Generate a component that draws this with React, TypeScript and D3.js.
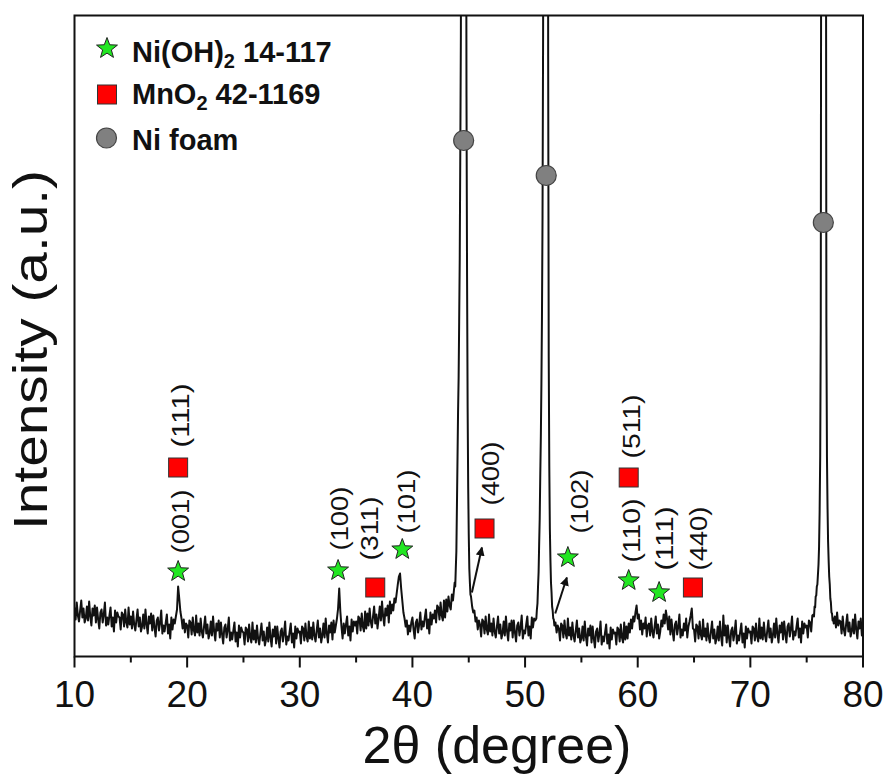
import React from 'react';
import * as d3 from 'd3';

// XRD scan, 2θ from 10° to 80° at 0.1° steps (intensity in a.u.)
const scanStart = 10;
const scanStep = 0.1;
const scanCounts: number[] = [
  49, 37, 54, 41, 35, 46, 56, 39, 48, 34,
  38, 50, 36, 55, 40, 31, 48, 41, 51, 34,
  49, 37, 28, 44, 47, 34, 42, 54, 31, 39,
  32, 41, 49, 30, 39, 25, 46, 34, 44, 40,
  39, 27, 44, 42, 30, 47, 34, 29, 49, 32,
  40, 28, 45, 32, 26, 37, 47, 30, 39, 25,
  30, 42, 28, 47, 32, 23, 40, 33, 43, 26,
  41, 29, 20, 36, 39, 26, 34, 46, 23, 31,
  25, 34, 42, 23, 32, 18, 39, 27, 37, 33,
  40, 47, 70, 58, 45, 38, 28, 37, 24, 33,
  31, 19, 36, 34, 22, 39, 26, 21, 41, 24,
  33, 21, 38, 25, 19, 30, 40, 23, 32, 18,
  23, 35, 21, 40, 25, 16, 33, 26, 36, 19,
  34, 22, 13, 29, 32, 19, 27, 39, 16, 24,
  17, 26, 34, 15, 24, 10, 31, 19, 29, 25,
  24, 12, 29, 27, 15, 32, 19, 14, 34, 17,
  26, 14, 31, 18, 12, 23, 33, 16, 25, 11,
  17, 29, 15, 34, 19, 10, 27, 20, 30, 13,
  30, 18, 9, 25, 28, 15, 23, 35, 12, 20,
  16, 25, 33, 14, 23, 9, 30, 18, 28, 24,
  25, 13, 30, 28, 16, 33, 20, 15, 35, 18,
  29, 17, 34, 21, 15, 26, 36, 19, 28, 14,
  21, 33, 19, 38, 23, 14, 31, 24, 34, 17,
  36, 24, 31, 38, 48, 68, 45, 30, 18, 33,
  23, 32, 40, 21, 30, 16, 37, 25, 35, 31,
  35, 23, 40, 38, 26, 43, 30, 25, 45, 28,
  43, 31, 48, 35, 29, 40, 50, 33, 42, 28,
  38, 50, 36, 55, 40, 31, 48, 41, 51, 34,
  55, 43, 52, 46, 58, 54, 63, 72, 80, 83,
  68, 56, 44, 38, 30, 36, 22, 31, 25, 34,
  39, 27, 18, 34, 37, 24, 32, 44, 27, 35,
  30, 39, 47, 28, 37, 23, 44, 32, 42, 38,
  46, 34, 51, 49, 37, 54, 41, 36, 56, 39,
  57, 45, 60, 51, 47, 62, 56, 68, 78, 110,
  200, 280, 400, 620, 1800, 5000, 1800, 560, 250, 120,
  120, 72, 58, 50, 44, 46, 35, 39, 27, 36,
  32, 20, 37, 35, 23, 40, 27, 22, 42, 25,
  33, 21, 38, 25, 19, 30, 40, 23, 32, 18,
  23, 35, 21, 40, 25, 16, 33, 26, 36, 19,
  36, 24, 15, 31, 34, 21, 29, 41, 18, 26,
  23, 32, 40, 21, 30, 18, 39, 29, 38, 36,
  40, 55, 85, 140, 220, 340, 620, 2000, 4500, 4500,
  1500, 300, 130, 75, 52, 40, 33, 34, 24, 31,
  28, 16, 33, 31, 19, 36, 23, 18, 38, 21,
  29, 17, 34, 21, 15, 26, 36, 19, 28, 14,
  18, 30, 16, 35, 20, 11, 28, 21, 31, 14,
  30, 18, 9, 25, 28, 15, 23, 35, 12, 20,
  15, 24, 32, 13, 22, 8, 29, 17, 27, 23,
  24, 12, 29, 27, 15, 32, 19, 14, 34, 17,
  30, 18, 33, 24, 37, 28, 40, 35, 44, 51,
  38, 42, 27, 36, 22, 33, 28, 39, 20, 31,
  33, 21, 38, 25, 19, 30, 40, 23, 32, 18,
  25, 36, 30, 42, 33, 46, 38, 27, 40, 22,
  37, 25, 16, 32, 35, 22, 30, 42, 19, 27,
  21, 33, 26, 38, 19, 30, 35, 41, 48, 28,
  27, 15, 32, 30, 18, 35, 22, 17, 37, 20,
  28, 16, 33, 20, 14, 25, 35, 18, 27, 13,
  18, 30, 16, 35, 20, 11, 41, 21, 31, 14,
  31, 19, 10, 26, 29, 16, 24, 36, 13, 21,
  16, 25, 33, 14, 23, 9, 30, 18, 28, 24,
  25, 13, 30, 28, 16, 33, 20, 15, 38, 18,
  29, 17, 34, 21, 15, 26, 36, 19, 28, 14,
  21, 33, 19, 38, 23, 14, 31, 24, 34, 17,
  35, 23, 14, 30, 33, 20, 28, 40, 17, 25,
  21, 30, 38, 19, 28, 14, 35, 23, 33, 29,
  31, 19, 36, 34, 25, 41, 43, 52, 63, 80,
  80, 110, 200, 2000, 4500, 4500, 2000, 330, 150, 95,
  80, 60, 46, 38, 34, 40, 29, 44, 31, 36,
  35, 23, 40, 27, 21, 32, 42, 25, 34, 20,
  25, 37, 23, 42, 27, 18, 35, 28, 38, 21,
  30,
];

// finer readings around the three Ni foam reflections (2θ, intensity)
const peakNi111: [number, number][] = [
  [43.7, 68], [43.75, 74], [43.8, 70], [43.85, 88], [43.9, 105], [43.95, 150], [44.0, 196],
  [44.05, 244], [44.1, 278], [44.15, 335], [44.2, 398], [44.25, 505], [44.3, 620], [44.35, 900],
  [44.4, 1800], [44.45, 3000], [44.5, 4500], [44.55, 5000], [44.6, 4500], [44.65, 3000],
  [44.7, 1800], [44.75, 900], [44.8, 560], [44.85, 380], [44.9, 250], [44.95, 170], [45.0, 122],
  [45.05, 88], [45.1, 74], [45.15, 62], [45.2, 60],
];
const peakNi200: [number, number][] = [
  [51.0, 38], [51.05, 47], [51.1, 53], [51.15, 70], [51.2, 84], [51.25, 112], [51.3, 138],
  [51.35, 182], [51.4, 220], [51.45, 272], [51.5, 340], [51.55, 440], [51.6, 620], [51.65, 1000],
  [51.7, 2000], [51.75, 3500], [51.8, 4500], [51.85, 5000], [51.9, 4500], [51.95, 3000],
  [52.0, 1500], [52.05, 600], [52.1, 300], [52.15, 190], [52.2, 128], [52.25, 97], [52.3, 74],
  [52.35, 64], [52.4, 50], [52.45, 46], [52.5, 38], [52.55, 37], [52.6, 31],
];
const peakNi220: [number, number][] = [
  [75.6, 42], [75.65, 40], [75.7, 50], [75.75, 49], [75.8, 60], [75.85, 61], [75.9, 70],
  [75.95, 72], [76.0, 82], [76.05, 92], [76.1, 110], [76.15, 145], [76.2, 200], [76.25, 330],
  [76.3, 900], [76.35, 2000], [76.4, 3500], [76.45, 4500], [76.5, 5000], [76.55, 4500],
  [76.6, 3500], [76.65, 2000], [76.7, 900], [76.75, 330], [76.8, 200], [76.85, 150], [76.9, 115],
  [76.95, 96], [77.0, 80], [77.05, 72], [77.1, 58], [77.15, 54], [77.2, 44], [77.25, 43],
  [77.3, 36], [77.35, 38], [77.4, 33],
];

// phase markers (2θ, level)
const niOH2Marks: [number, number][] = [[19.2, 85], [33.4, 86], [39.1, 107], [53.8, 99], [59.2, 76], [61.9, 64]];
const mnO2Marks: [number, number][] = [[19.2, 189], [36.7, 69], [46.4, 128], [59.2, 179], [64.9, 69]];
const niFoamMarks: [number, number][] = [[44.55, 516], [51.88, 481], [76.48, 434]];

// Miller index labels (text, 2θ, level at label start)
const hklLabels: [string, number, number][] = [
  ['(001)', 19.49, 103], ['(111)', 19.49, 209], ['(100)', 33.6, 106], ['(311)', 36.26, 96],
  ['(101)', 39.54, 123], ['(400)', 47.0, 151], ['(102)', 54.89, 123], ['(511)', 59.51, 198],
  ['(110)', 59.51, 94], ['(111)', 62.44, 86], ['(440)', 65.45, 86],
];

// arrows (from 2θ, level, to 2θ, level)
const arrows: [number, number, number, number][] = [
  [45.28, 64, 46.17, 109],
  [52.68, 43, 53.71, 79],
];

const xTicks = [10, 20, 30, 40, 50, 60, 70, 80];
const xMinorTicks = [15, 25, 35, 45, 55, 65, 75];

const FONT = "'Liberation Sans', Arial, Helvetica, sans-serif";
const STAR_FILL = '#22e622';
const SQUARE_FILL = '#ff0000';
const CIRCLE_FILL = '#808080';

function starPath(cx: number, cy: number, R: number, r: number) {
  const pts: [number, number][] = [];
  for (let i = 0; i < 10; i++) {
    const a = -Math.PI / 2 + (i * Math.PI) / 5;
    const rad = i % 2 === 0 ? R : r;
    pts.push([cx + rad * Math.cos(a), cy + rad * Math.sin(a)]);
  }
  return (d3.line()(pts) as string) + 'Z';
}

export default function App() {
  const W = 890;
  const H = 776;
  const left = 74.5, right = 863, top = 15.5, bottom = 656.5;
  const x = d3.scaleLinear().domain([10, 80]).range([left, right]);
  const y = d3.scaleLinear().domain([0, 641]).range([bottom, top]);

  const details = [peakNi111, peakNi200, peakNi220];
  const coarse: [number, number][] = scanCounts.map((v, i) => [scanStart + i * scanStep, v]);
  const kept = coarse.filter(([t]) =>
    !details.some((d) => t >= d[0][0] - 1e-6 && t <= d[d.length - 1][0] + 1e-6));
  const trace = kept.concat(...details).sort((a, b) => a[0] - b[0]);

  const line = d3.line<[number, number]>().x((d) => x(d[0])).y((d) => y(d[1]));

  return (
    <>
      <style>{'body{margin:0}'}</style>
      <svg width={W} height={H} style={{ display: 'block', background: '#fff' }} fontFamily={FONT}>
        <defs>
          <clipPath id="plotclip">
            <rect x={left} y={top} width={right - left} height={bottom - top} />
          </clipPath>
          <marker id="arrowhead" viewBox="0 0 10 10" refX="9" refY="5" markerWidth="4.5" markerHeight="4.5" orient="auto">
            <path d="M0,0 L10,5 L0,10 Z" fill="#111" />
          </marker>
        </defs>

        <rect x={0} y={0} width={W} height={H} fill="#fff" />

        <path d={line(trace) as string} fill="none" stroke="#111" strokeWidth={2} strokeLinejoin="round" clipPath="url(#plotclip)" />

        {arrows.map((a, i) => (
          <line key={'ar' + i} x1={x(a[0])} y1={y(a[1])} x2={x(a[2])} y2={y(a[3])}
            stroke="#111" strokeWidth={2} markerEnd="url(#arrowhead)" />
        ))}

        {hklLabels.map(([t, th, lv], i) => (
          <text key={'lb' + i} transform={`translate(${x(th)},${y(lv)}) rotate(-90)`}
            fontSize={23} textAnchor="start" dominantBaseline="central" fill="#111"
            textLength={64} lengthAdjust="spacingAndGlyphs">{t}</text>
        ))}

        {niOH2Marks.map(([th, lv], i) => (
          <path key={'st' + i} d={starPath(x(th), y(lv), 11, 4.6)} fill={STAR_FILL} stroke="#222" strokeWidth={1} />
        ))}
        {mnO2Marks.map(([th, lv], i) => (
          <rect key={'sq' + i} x={x(th) - 9.5} y={y(lv) - 9.5} width={19} height={19} fill={SQUARE_FILL} stroke="#333" strokeWidth={1} />
        ))}
        {niFoamMarks.map(([th, lv], i) => (
          <circle key={'ci' + i} cx={x(th)} cy={y(lv)} r={10} fill={CIRCLE_FILL} stroke="#444" strokeWidth={1.2} />
        ))}

        {/* legend */}
        <path d={starPath(107, 48.5, 11, 4.6)} fill={STAR_FILL} stroke="#222" strokeWidth={1} />
        <text x={132} y={62} fontSize={29} fontWeight="bold" fill="#111">
          <tspan>Ni(OH)</tspan><tspan fontSize={20} dy={6}>2</tspan><tspan dy={-6}> 14-117</tspan>
        </text>
        <rect x={97.5} y={85} width={19} height={19} fill={SQUARE_FILL} stroke="#333" strokeWidth={1} />
        <text x={132} y={104} fontSize={29} fontWeight="bold" fill="#111">
          <tspan>MnO</tspan><tspan fontSize={20} dy={6}>2</tspan><tspan dy={-6}> 42-1169</tspan>
        </text>
        <circle cx={106.5} cy={138} r={10} fill={CIRCLE_FILL} stroke="#444" strokeWidth={1.2} />
        <text x={132} y={150} fontSize={29} fontWeight="bold" fill="#111">Ni foam</text>

        {/* frame */}
        <rect x={left} y={top} width={right - left} height={bottom - top} fill="none" stroke="#111" strokeWidth={2} />

        {/* x ticks */}
        {xTicks.map((t) => (
          <g key={'t' + t}>
            <line x1={x(t)} x2={x(t)} y1={bottom} y2={bottom + 11} stroke="#111" strokeWidth={2} />
            <text x={x(t)} y={707} fontSize={37} textAnchor="middle" fill="#111">{t}</text>
          </g>
        ))}
        {xMinorTicks.map((t) => (
          <line key={'m' + t} x1={x(t)} x2={x(t)} y1={bottom} y2={bottom + 6} stroke="#111" strokeWidth={2} />
        ))}

        <text x={497} y={763} fontSize={52} textAnchor="middle" fill="#111">2θ (degree)</text>
        <text transform="translate(47,350) rotate(-90)" fontSize={48} textAnchor="middle" fill="#111"
          textLength={360} lengthAdjust="spacingAndGlyphs">Intensity (a.u.)</text>
      </svg>
    </>
  );
}
